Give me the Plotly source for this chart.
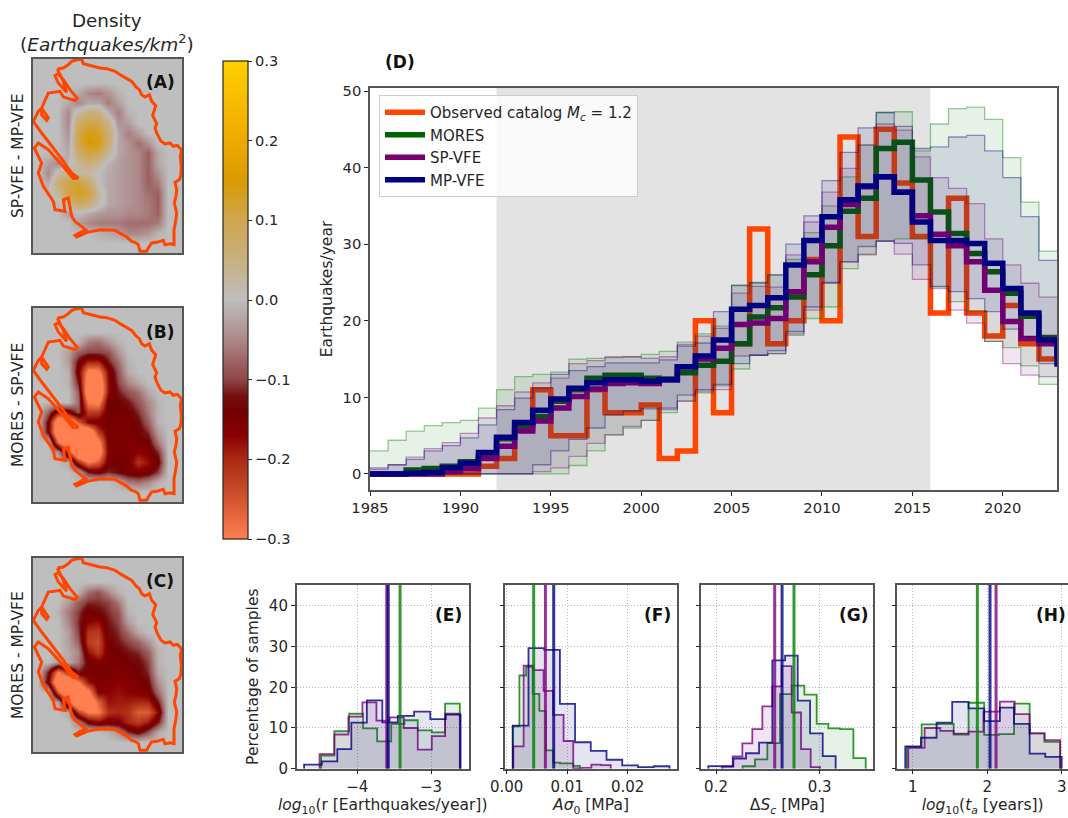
import numpy as np
import plotly.graph_objects as go

W, H = 1068, 818
FONT = "DejaVu Sans"
INK = "#262626"
SPINE = "#555555"

# ---------- panel D ----------
years = list(range(1985, 2024))
observed = [0,0,0,0,0,0,1,2,6,11,5,5,11,8,8,9,2,3,20,8,17,32,17,20,28,20,44,31,45,38,31,21,36,21,18,22,17,15,15]
mores = [0,0,0.5,0.7,1,1.6,2.3,4.6,6.3,7.5,9.5,11,12.5,12.9,12.9,12.5,12.4,13.2,14.2,14.7,17,20.5,21.7,23.1,26,29.8,34.3,36,42.5,43.3,38.4,34.2,31.4,28.8,26.4,23.6,20.6,17.8,17.5]
sp_vfe = [0,0,0,0,0.3,0.7,2,3.6,5.6,6.9,8.6,10.1,11.1,11.8,11.9,11.8,12.3,14,15,16.4,19.5,19.7,20.3,23.8,27.7,32.2,35.2,37.5,38.8,36.8,33.7,31.3,29.8,27.7,24,19.9,17.7,17,15]
mp_vfe = [0,0,0.1,0.2,0.8,1.4,2.8,4.8,6.7,8.3,9.8,11.2,11.9,12.3,12.3,12.1,12.3,14,15.4,17.5,21.5,22,23,27.3,30.5,33.6,35.8,37.6,38.8,36.8,32.9,30.5,30.5,30.1,27.5,24.2,21,17.5,14]
mores_hi = [3,4.4,5.6,6.3,6.7,7,8.6,11,12.7,13,13.3,15,15.1,15.2,15.3,15.6,16,17.2,18.3,19.3,24.7,24.9,26,28,31.5,35,38.8,43,47.2,47.3,42.2,45.7,47.7,47.9,46.3,41.3,35.5,29.1,29.1]
mores_lo = [0,0,0,0,0,0,0,0,0,0,0,1.1,3,5.1,6,7,8,9.5,10.6,11.5,13.7,15.5,15.7,18.1,20.3,21.8,26.8,28.7,30.4,30.7,30.7,24.4,22.5,21.2,17.3,16.5,14.1,11.7,11.7]
sp_hi = [0.6,1.2,2.2,3.3,4.1,5.3,7.3,8.9,10.7,11.9,12.5,14.4,14.8,15.3,15.3,15.1,15.3,16.9,18,19,23.6,24.5,24.4,28.6,32.9,36.8,39.9,42.9,45.7,44.9,41.4,38.7,37.3,35.3,30.7,27.3,24.9,23.1,23.1]
sp_lo = [0,0,0,0,0,0,0,0,0,0.3,0.8,2.3,4,5.1,6.2,7,8.4,9.5,10.8,11,15.4,15.5,15.7,18.3,21.4,24.9,27.7,28.6,30.4,28.7,25.4,24.2,21.4,19.7,17.3,14.4,12.9,12.7,12.7]
mp_hi = [0.8,1.2,1.9,3,3.7,4.7,6.4,8.4,9.9,11.2,13,13.5,14,14.5,14.5,14.5,14.9,16.7,17.1,21.2,24.6,25,26,30,33.7,38.3,42,45.2,47.2,45.4,42.5,42.7,44,44.2,42.2,38.7,33.6,27.9,27.9]
mp_lo = [0,0,0,0,0,0,0,0,0,1.2,3,4.5,6,7.7,8.2,8.5,8.6,10.3,11,11.7,14.4,15.5,16.1,18.6,21.8,25,27.7,29.7,30.4,30.1,27.3,24.5,23.8,22.9,21.2,18.9,17.9,14.4,14.4]

# ---------- histograms: (edges, heights) for MORES, SP-VFE, MP-VFE ----------
e_edges_m = [-4.49,-4.31,-4.11,-3.92,-3.73,-3.54,-3.36,-3.18,-2.99,-2.81,-2.61]
e_vals_m  = [3.2,9.2,13.5,9.9,6.7,11,11.9,9.4,8.9,16]
e_edges_s = [-4.51,-4.31,-4.12,-3.93,-3.74,-3.56,-3.37,-3.18,-2.99,-2.81,-2.61]
e_vals_s  = [3.6,8.4,12.8,16.3,11.8,12.6,10,4.7,8,13.5]
e_edges_b = [-4.72,-4.48,-4.27,-4.08,-3.87,-3.66,-3.45,-3.23,-3.01,-2.80,-2.60]
e_vals_b  = [1,1.8,4.8,11.3,16.8,11.4,13,14,12.2,13.3]
f_edges_m = [0.0010,0.0021,0.0032,0.0043,0.0054,0.0065,0.0077,0.0088,0.0099,0.0110,0.0121]
f_vals_m  = [10.4,22.9,25,18.4,14.2,4.5,1.5,1.3,1.3,0.7]
f_edges_s = [0.0011,0.0028,0.0044,0.0061,0.0077,0.0094,0.0110,0.0125,0.0140,0.0156,0.0172]
f_vals_s  = [5.5,25.3,24.2,19.1,13.2,6.8,0.1,0.2,1,0.9]
f_edges_b = [0.0010,0.0036,0.0062,0.0088,0.0113,0.0139,0.0165,0.0191,0.0217,0.0243,0.0269]
f_vals_b  = [10.6,29.6,29.2,15.9,6.5,4.4,2.2,0.8,0.4,0.6]
g_edges_m = [0.2257,0.2376,0.2495,0.2617,0.2730,0.2852,0.2971,0.3084,0.3196,0.3325,0.3444]
g_vals_m  = [0.6,2.3,6.3,18.3,20.4,18.2,11,9.9,9.7,2.6]
g_edges_s = [0.2061,0.2161,0.2254,0.2350,0.2447,0.2543,0.2633,0.2730,0.2820,0.2913,0.3003]
g_vals_s  = [0.5,3,6.2,9.7,15.3,20.2,25.2,13.8,4.8,0.4]
g_edges_b = [0.1926,0.2051,0.2167,0.2289,0.2415,0.2543,0.2666,0.2788,0.2907,0.3029,0.3154]
g_vals_b  = [0.65,0.6,2.5,3.8,6.4,26.6,27.8,16.7,8.7,3.1]
h_edges_m = [0.92,1.12,1.34,1.55,1.75,1.96,2.16,2.36,2.57,2.77,2.98]
h_vals_m  = [5.3,10.9,11,8.4,16.2,8.3,8.5,16,8.7,6.6]
h_edges_s = [0.94,1.16,1.37,1.55,1.75,1.95,2.17,2.37,2.57,2.77,2.98]
h_vals_s  = [5.1,10,9.3,8.6,9.1,14,16.5,13.4,8.7,7]
h_edges_b = [0.90,1.11,1.32,1.53,1.75,1.96,2.17,2.36,2.57,2.78,3.00]
h_vals_b  = [5.5,7.6,11.3,16.4,14.8,11.7,15,11,3.7,2.9]
e_medians = [-3.42,-3.60,-3.58]
f_medians = [0.00446,0.0064,0.00777]
g_medians = [0.2752,0.2566,0.2637]
h_medians = [1.868,2.119,2.038]

# ---------- density maps (hundredths of earthquakes/km2) ----------
map_x = [114,144,174,204,234,264,294,324,354,384,414,444,474,504,534]
map_y = list(range(190, 761, 30))
density_a = [
 [0,0,0,0,0,0,0,0,0,0,0,0,0,0,0],
 [0,0,0,0,0,0,0,0,0,0,0,0,0,0,0],
 [0,0,0,0,0,0,0,0,0,0,0,0,0,0,0],
 [0,0,0,0,-2,-5,-6,-4,-1,0,0,0,0,0,0],
 [0,0,0,-2,-5,-2,-2,-6,-3,0,0,0,0,0,0],
 [0,0,0,-5,3,6,6,-1,-6,-1,0,0,0,0,0],
 [0,0,0,-5,8,10,10,5,-4,-3,0,0,0,0,0],
 [0,0,0,-4,10,14,13,7,-2,-6,-3,0,0,0,0],
 [0,0,0,-3,10,15,14,7,-2,-4,-7,-4,0,0,0],
 [0,0,0,-2,7,11,10,3,-2,-4,-5,-8,-2,0,0],
 [0,-3,-5,-1,3,6,3,-1,-3,-4,-5,-8,-2,0,0],
 [0,-5,2,5,2,2,0,-2,-3,-4,-5,-8,-4,0,0],
 [0,-2,7,10,12,8,0,-2,-3,-4,-5,-8,-6,0,0],
 [0,0,3,11,13,12,3,-2,-3,-4,-5,-7,-8,0,0],
 [0,0,-1,5,9,7,2,-2,-3,-4,-5,-6,-8,0,0],
 [0,0,0,-3,0,-2,-3,-4,-4,-5,-5,-6,-8,0,0],
 [0,0,0,0,-3,-5,-6,-6,-6,-7,-7,-7,-6,0,0],
 [0,0,0,0,0,0,-1,-2,-3,-5,-5,-4,-1,0,0],
 [0,0,0,0,0,0,0,0,0,0,0,0,0,0,0],
 [0,0,0,0,0,0,0,0,0,0,0,0,0,0,0],
]
density_b = [
 [0,0,0,0,0,0,0,0,0,0,0,0,0,0,0],
 [0,0,0,0,0,0,0,0,0,0,0,0,0,0,0],
 [0,0,0,0,0,0,0,0,0,0,0,0,0,0,0],
 [0,0,0,0,-1,-6,-7,-4,-1,0,0,0,0,0,0],
 [0,0,0,-3,-8,-10,-10,-9,-4,0,0,0,0,0,0],
 [0,0,0,-3,-13,-20,-20,-12,-7,-1,0,0,0,0,0],
 [0,0,0,-1,-15,-32,-32,-17,-9,-2,0,0,0,0,0],
 [0,0,0,-1,-12,-36,-38,-18,-10,-5,-2,0,0,0,0],
 [0,0,0,0,-8,-38,-40,-18,-12,-9,-7,-2,0,0,0],
 [0,0,0,0,-7,-30,-32,-14,-14,-12,-9,-5,-1,0,0],
 [0,-8,-18,-16,-9,-22,-22,-14,-14,-14,-11,-6,-1,0,0],
 [0,-14,-38,-40,-26,-16,-15,-14,-15,-15,-13,-8,-1,0,0],
 [0,-14,-40,-42,-42,-40,-22,-15,-15,-15,-14,-11,-3,0,0],
 [0,0,-28,-42,-42,-42,-32,-15,-15,-16,-15,-14,-6,0,0],
 [0,0,-4,-22,-42,-42,-36,-16,-15,-15,-17,-16,-11,0,0],
 [0,0,0,-2,-20,-30,-26,-15,-14,-15,-21,-18,-14,0,0],
 [0,0,0,0,-2,-12,-14,-11,-13,-15,-16,-15,-10,0,0],
 [0,0,0,0,0,0,0,0,-2,-6,-7,-5,-1,0,0],
 [0,0,0,0,0,0,0,0,0,0,0,0,0,0,0],
 [0,0,0,0,0,0,0,0,0,0,0,0,0,0,0],
]
density_c = [
 [0,0,0,0,0,0,0,0,0,0,0,0,0,0,0],
 [0,0,0,0,0,0,0,0,0,0,0,0,0,0,0],
 [0,0,0,0,0,0,0,0,0,0,0,0,0,0,0],
 [0,0,0,0,-1,-7,-9,-5,-1,0,0,0,0,0,0],
 [0,0,0,-3,-8,-11,-11,-10,-6,0,0,0,0,0,0],
 [0,0,-1,-6,-10,-15,-13,-11,-9,-1,0,0,0,0,0],
 [0,0,0,-5,-11,-17,-18,-12,-10,-3,0,0,0,0,0],
 [0,0,0,-3,-10,-21,-22,-13,-11,-7,-2,0,0,0,0],
 [0,0,0,-3,-8,-22,-24,-14,-12,-10,-8,-4,0,0,0],
 [0,0,0,-2,-5,-18,-22,-15,-14,-12,-11,-8,-1,0,0],
 [0,0,-3,-2,-6,-14,-16,-15,-15,-14,-13,-10,-1,0,0],
 [0,-12,-30,-20,-12,-15,-15,-15,-16,-15,-14,-11,-2,0,0],
 [0,-15,-40,-40,-30,-18,-15,-16,-17,-16,-15,-13,-4,0,0],
 [0,0,-26,-42,-40,-32,-16,-17,-18,-17,-16,-15,-7,0,0],
 [0,0,-3,-26,-42,-38,-27,-18,-19,-19,-20,-20,-12,0,0],
 [0,0,0,-2,-22,-30,-30,-21,-20,-21,-26,-26,-17,0,0],
 [0,0,0,0,-5,-14,-17,-15,-16,-20,-22,-19,-12,0,0],
 [0,0,0,0,0,0,0,-1,-4,-11,-14,-9,-2,0,0],
 [0,0,0,0,0,0,0,0,0,0,0,0,0,0,0],
 [0,0,0,0,0,0,0,0,0,0,0,0,0,0,0],
]
outline_x = [172,190,205,215,225,245,250,270,300,320,345,360,380,395,408,418,425,435,448,455,467,462,458,470,465,470,483,495,510,520,532,545,541,544,543,538,525,530,528,523,530,527,522,522,510,495,490,470,455,445,440,420,415,405,395,380,345,300,262,230,225,257,245,225,215,205,190,195,165,160,130,115,125,103,115,145,185,220,235,215,185,155,125,100,105,115,125,145,140,125,125,135,145,180,190,225,232,210,190,175,165,175,200,190,172]
outline_y = [208,205,195,185,182,178,192,198,205,207,215,225,235,245,262,270,285,292,285,305,318,335,348,372,385,400,425,433,430,440,437,450,470,500,525,540,548,570,590,610,640,665,690,735,732,735,722,728,730,745,755,755,735,728,725,712,692,690,698,712,707,690,680,665,650,595,600,635,630,605,560,520,490,445,430,450,495,537,535,520,478,440,400,365,355,335,325,355,362,345,325,300,280,275,292,303,296,270,240,222,228,250,278,245,208]

colorscale_stops = [-0.30,-0.25,-0.20,-0.17,-0.14,-0.12,-0.10,-0.05,0.0,0.05,0.10,0.15,0.20,0.30]
colorscale_hex = ["#ff7f50","#d25530","#a82a14","#8b0000","#730000","#751010","#8f4545","#ad8888","#bebebe","#c8b080","#d0a550","#d89c00","#efaa00","#ffd000"]
cb_ticks = [-0.3,-0.2,-0.1,0.0,0.1,0.2,0.3]
cb_labels = ["\u22120.3","\u22120.2","\u22120.1","0.0","0.1","0.2","0.3"]

COL = {"obs": "#ff4500", "m": "#006400", "s": "#7d0070", "b": "#000080"}
BAND = {"m": (0, 128, 0), "s": (128, 0, 128), "b": (0, 0, 128)}


def rgba(c, a):
    return f"rgba({c[0]},{c[1]},{c[2]},{a})"


def xdom(a, b):
    return [a / W, min(b / W, 1)]


def ydom(top, bot):
    return [1 - bot / H, 1 - top / H]


fig = go.Figure()
layout = {}
frame = dict(showline=True, linecolor=SPINE, linewidth=1.5, mirror=True, zeroline=False)


def tick(size):
    return dict(ticks="outside", ticklen=4, tickwidth=1.2, tickcolor=INK, tickfont=dict(size=size, family=FONT, color=INK))


def add_axes(n, xd, yd, xa, ya):
    layout[f"xaxis{n}"] = dict(domain=xd, anchor=f"y{n}", **frame, **xa)
    layout[f"yaxis{n}"] = dict(domain=yd, anchor=f"x{n}", **frame, **ya)


# ---------- maps ----------
map_tops = [59, 308, 558]
for n, (grid, top) in enumerate(zip([density_a, density_b, density_c], map_tops), start=1):
    add_axes(n, xdom(33, 182), ydom(top, top + 194),
             dict(range=[99, 546], showticklabels=False, ticks="", showgrid=False),
             dict(range=[760, 178], showticklabels=False, ticks="", showgrid=False))
    extra = {}
    if n == 1:
        extra = dict(showscale=True, colorbar=dict(
            x=223 / W, xanchor="left", xpad=0, y=1 - 61 / H, yanchor="top", ypad=0,
            len=478, lenmode="pixels", thickness=25, thicknessmode="pixels",
            outlinewidth=1.2, outlinecolor=INK, ticks="outside", ticklen=4,
            tickcolor=INK, tickvals=cb_ticks, ticktext=cb_labels,
            tickfont=dict(size=14.6, family=FONT, color=INK)))
    else:
        extra = dict(showscale=False)
    span = colorscale_stops[-1] - colorscale_stops[0]
    cs = [[(v - colorscale_stops[0]) / span, c] for v, c in zip(colorscale_stops, colorscale_hex)]
    fig.add_trace(go.Heatmap(x=map_x, y=map_y, z=np.array(grid) / 100, zmin=-0.3, zmax=0.3, colorscale=cs,
                             zsmooth="best", xaxis=f"x{n}", yaxis=f"y{n}", hoverinfo="skip", **extra))
    fig.add_trace(go.Scatter(x=outline_x, y=outline_y, mode="lines", showlegend=False,
                             line=dict(color=COL["obs"], width=3), xaxis=f"x{n}", yaxis=f"y{n}"))

# ---------- panel D ----------
add_axes(4, xdom(370, 1057), ydom(88, 490),
         dict(range=[1985, 2023], tickvals=list(range(1985, 2021, 5)), showgrid=False, **tick(14.7)),
         dict(range=[-2.1, 50.4], tickvals=list(range(0, 51, 10)), showgrid=False, **tick(14.7),
              title=dict(text="Earthquakes/year", standoff=6, font=dict(size=15.5, family=FONT, color=INK))))
fig.add_trace(go.Scatter(x=years, y=observed, mode="lines", line=dict(color=COL["obs"], width=5.5, shape="hv"),
                         name="Observed catalog <i>M<sub>c</sub></i> = 1.2", xaxis="x4", yaxis="y4"))
for key, mid, lo, hi, name in [("m", mores, mores_lo, mores_hi, "MORES"),
                               ("s", sp_vfe, sp_lo, sp_hi, "SP-VFE"),
                               ("b", mp_vfe, mp_lo, mp_hi, "MP-VFE")]:
    edge = dict(color=rgba(BAND[key], 0.4), width=1.3, shape="hv")
    fig.add_trace(go.Scatter(x=years, y=hi, mode="lines", line=edge, showlegend=False, xaxis="x4", yaxis="y4"))
    fig.add_trace(go.Scatter(x=years, y=lo, mode="lines", line=edge, showlegend=False, fill="tonexty",
                             fillcolor=rgba(BAND[key], 0.1), xaxis="x4", yaxis="y4"))
    fig.add_trace(go.Scatter(x=years, y=mid, mode="lines", line=dict(color=COL[key], width=5.5, shape="hv"),
                             name=name, xaxis="x4", yaxis="y4"))

# ---------- histograms ----------
panels = [
    (5, 296.7, 468.7, [-4.82, -2.49], [-4, -3], ["\u22124", "\u22123"],
     "<i>log</i><sub>10</sub>(r [Earthquakes/year])",
     [(e_edges_m, e_vals_m), (e_edges_s, e_vals_s), (e_edges_b, e_vals_b)], e_medians),
    (6, 505.3, 676.7, [-0.00023, 0.0281], [0, 0.01, 0.02], ["0.00", "0.01", "0.02"],
     "<i>A\u03c3</i><sub>0</sub> [MPa]",
     [(f_edges_m, f_vals_m), (f_edges_s, f_vals_s), (f_edges_b, f_vals_b)], f_medians),
    (7, 701.3, 873.3, [0.1858, 0.3517], [0.2, 0.3], ["0.2", "0.3"],
     "\u0394<i>S<sub>c</sub></i> [MPa]",
     [(g_edges_m, g_vals_m), (g_edges_s, g_vals_s), (g_edges_b, g_vals_b)], g_medians),
    (8, 897.3, 1068, [0.793, 3.085], [1, 2, 3], ["1", "2", "3"],
     "<i>log</i><sub>10</sub>(<i>t<sub>a</sub></i> [years])",
     [(h_edges_m, h_vals_m), (h_edges_s, h_vals_s), (h_edges_b, h_vals_b)], h_medians),
]
grid_style = dict(showgrid=True, gridcolor="#b8b8b8", griddash="1px,2px", gridwidth=1)
for n, x0, x1, xr, tv, tt, xtitle, hists, meds in panels:
    ya = dict(range=[0, 45.2], tickvals=[0, 10, 20, 30, 40], **grid_style, **tick(15))
    if n == 5:
        ya["title"] = dict(text="Percentage of samples", standoff=6, font=dict(size=15.5, family=FONT, color=INK))
    else:
        ya["showticklabels"] = False
    add_axes(n, xdom(x0, x1), ydom(584.7, 768.7),
             dict(range=xr, tickvals=tv, ticktext=tt, **grid_style, **tick(15),
                  title=dict(text=xtitle, standoff=4, font=dict(size=15.5, family=FONT, color=INK))), ya)
    for key, (edges, vals), med in zip(["m", "s", "b"], hists, meds):
        xs = [edges[0]] + list(edges)
        xs = xs + [edges[-1]]
        ys = [0] + list(vals) + [vals[-1], 0]
        fig.add_trace(go.Scatter(x=xs, y=ys, mode="lines", fill="tozeroy", showlegend=False,
                                 fillcolor=rgba(BAND[key], 0.1),
                                 line=dict(color=rgba(BAND[key], 0.8), width=1.8, shape="hv"),
                                 xaxis=f"x{n}", yaxis=f"y{n}"))
    for key, med in zip(["m", "s", "b"], meds):
        fig.add_trace(go.Scatter(x=[med, med], y=[0, 45.2], mode="lines", showlegend=False,
                                 line=dict(color=rgba(BAND[key], 0.8), width=3),
                                 xaxis=f"x{n}", yaxis=f"y{n}"))


def label(text, x, y, size=14, bold=False, angle=0):
    t = f"<b>{text}</b>" if bold else text
    return dict(text=t, x=x / W, y=1 - y / H, xref="paper", yref="paper", xanchor="center", yanchor="middle",
                showarrow=False, textangle=angle, font=dict(size=size, family=FONT, color="#111111" if bold else INK))


annotations = [
    label("Density", 107, 20, 18.3),
    label("(<i>Earthquakes/km</i><sup>2</sup>)", 107, 43, 18.5),
    label("SP-VFE - MP-VFE", 18, 156, 15.5, angle=-90),
    label("MORES - SP-VFE", 18, 405, 15.5, angle=-90),
    label("MORES - MP-VFE", 18, 655, 15.5, angle=-90),
    label("(A)", 160, 82, 17, True),
    label("(B)", 160, 332, 17, True),
    label("(C)", 160, 581, 17, True),
    label("(D)", 400, 62, 17, True),
    label("(E)", 448, 615, 17, True),
    label("(F)", 657, 615, 17, True),
    label("(G)", 854, 615, 17, True),
    label("(H)", 1051, 615, 17, True),
]

shapes = [dict(type="rect", xref="x4", yref="y4", x0=1992, x1=2016, y0=-2.1, y1=50.4,
               fillcolor="#e3e3e3", line_width=0, layer="below")]

fig.update_layout(
    width=W, height=H, autosize=False, margin=dict(l=0, r=0, t=0, b=0, autoexpand=False),
    paper_bgcolor="white", plot_bgcolor="white", font=dict(family=FONT, color=INK, size=14),
    legend=dict(x=379 / W, y=1 - 95 / H, xanchor="left", yanchor="top", bgcolor="rgba(255,255,255,0.8)",
                bordercolor="#cccccc", borderwidth=1, font=dict(size=15, family=FONT, color=INK), itemwidth=40,
                tracegroupgap=0, traceorder="normal"),
    annotations=annotations, shapes=shapes, **layout)

fig.write_html("out.html", config={"displayModeBar": False},
               post_script="document.body.style.margin='0';document.body.style.overflow='hidden';")
